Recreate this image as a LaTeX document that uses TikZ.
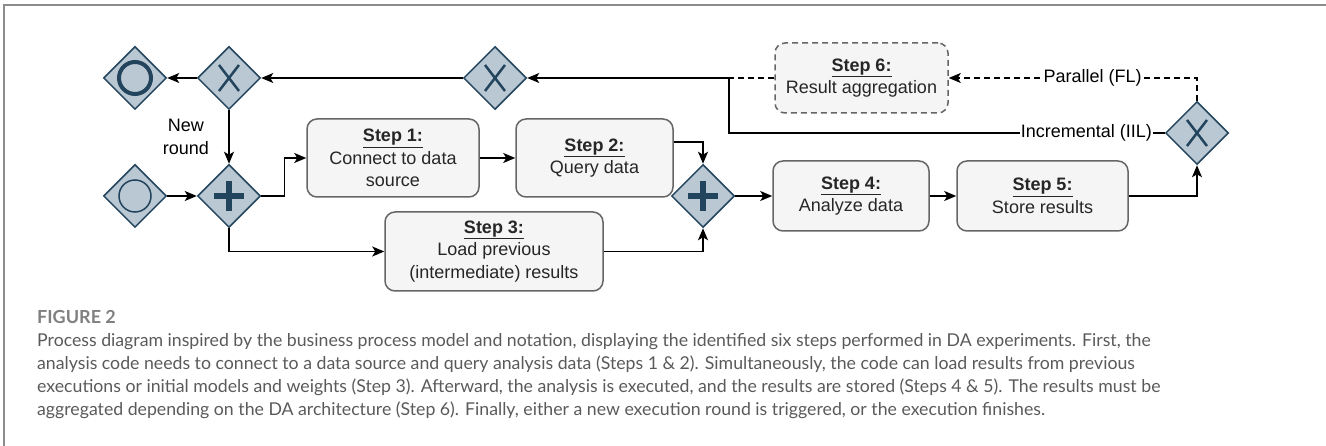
\documentclass[tikz,border=0pt]{standalone}
\usepackage{fontspec}
\setmainfont{Liberation Sans}
\newfontfamily\capfont{Lato}
\usetikzlibrary{shapes.geometric,arrows.meta}
\definecolor{gatefill}{HTML}{BAC8D3}
\definecolor{gatedraw}{HTML}{23445D}
\definecolor{boxfill}{HTML}{F5F5F5}
\definecolor{boxdraw}{HTML}{666666}
\definecolor{capgray}{HTML}{5A5A5A}
\definecolor{framegray}{HTML}{8C8C8C}
\tikzset{
    gateway/.style={
        diamond,
        draw=gatedraw, % dark blue border
        fill=gatefill, % light blue fill
        line width=1.5pt,
        minimum width=63pt,
        minimum height=63pt,
        inner sep=0
    },
    stepbox/.style={
        rectangle,
        rounded corners=10pt,
        draw=boxdraw,
        fill=boxfill,
        line width=1.5pt,
        align=center,
        inner sep=0,
        text=black!85,
        font=\fontsize{18}{22.5}\selectfont
    },
    flow/.style={
        line width=1.5pt,
        -{Stealth[length=12pt,width=10pt,inset=3pt]}
    },
    optional/.style={dash pattern=on 6pt off 4pt},
    flowlabel/.style={
        fill=white,
        inner sep=1pt,
        font=\fontsize{18}{22.5}\selectfont
    },
    gateicon/.style={draw=gatedraw, line cap=butt}
}
\newcommand{\xicon}[1]{%
    \draw[gateicon, line width=2.5pt] ([shift={(-10,-13)}]#1.center) -- ([shift={(10,13)}]#1.center);
    \draw[gateicon, line width=2.5pt] ([shift={(-10,13)}]#1.center) -- ([shift={(10,-13)}]#1.center);}
\newcommand{\plusicon}[1]{%
    \draw[gateicon, line width=6pt] ([shift={(-15,0)}]#1.center) -- ([shift={(15,0)}]#1.center);
    \draw[gateicon, line width=6pt] ([shift={(0,-15)}]#1.center) -- ([shift={(0,15)}]#1.center);}

\begin{document}
\begin{tikzpicture}[x=1pt, y=-1pt]
    \useasboundingbox (0,0) rectangle (1326,446);
    % frame
    \draw[framegray, line width=2pt] (4,446) -- (4,5) -- (1326,5);

    % gateways and events
    \node[gateway] (finish) at (135,78) {};
    \node[gateway] (xround) at (229,78) {};
    \node[gateway] (xmerge) at (495,78) {};
    \node[gateway] (start) at (135,196) {};
    \node[gateway] (fork) at (229,196) {};
    \node[gateway] (join) at (703,196) {};
    \node[gateway] (xarch) at (1197,133) {};
    \draw[gateicon, line width=4pt] (finish.center) circle (16);
    \draw[gateicon, line width=1.5pt] (start.center) circle (16);
    \xicon{xround}
    \xicon{xmerge}
    \xicon{xarch}
    \plusicon{fork}
    \plusicon{join}

    % steps
    \node[stepbox, minimum width=172pt, minimum height=78pt] (s1) at (393,158)
        {\underline{\textbf{Step 1:}}\\Connect to data\\source};
    \node[stepbox, minimum width=157pt, minimum height=78pt] (s2) at (594.5,158)
        {\underline{\textbf{Step 2:}}\\Query data};
    \node[stepbox, minimum width=218pt, minimum height=79pt] (s3) at (494,251.5)
        {\underline{\textbf{Step 3:}}\\Load previous\\(intermediate) results};
    \node[stepbox, minimum width=156pt, minimum height=70pt] (s4) at (851,196)
        {\underline{\textbf{Step 4:}}\\Analyze data};
    \node[stepbox, minimum width=171pt, minimum height=70pt] (s5) at (1042.5,196)
        {\underline{\textbf{Step 5:}}\\Store results};
    \node[stepbox, optional, minimum width=173pt, minimum height=70pt] (s6) at (861.5,78)
        {\underline{\textbf{Step 6:}}\\Result aggregation};

    \coordinate (jtop) at (729,78);
    \coordinate (jlow) at (729,133);
    \coordinate (jpar) at (1197,78);

    % flows
    \draw[flow] (start) -- (fork);
    \draw[flow] (fork.east) -- ++(23,0) |- (s1);
    \draw[flow] (fork) |- (s3);
    \draw[flow] (s1) -- (s2);
    \draw[flow] ([yshift=16pt]s2.east) -| (join);
    \draw[flow] (s3) -| (join);
    \draw[flow] (join) -- (s4);
    \draw[flow] (s4) -- (s5);
    \draw[flow] (s5) -| (xarch);
    \draw[flow, optional] (xarch.north) -- (jpar)
        -- node[flowlabel, pos=0.42] {Parallel (FL)} (s6);
    \draw[line width=1.5pt, optional] (s6.west) -- (jtop);
    \draw[flow] (xarch.west) -- node[flowlabel, pos=0.18] {Incremental (IIL)} (jlow)
        -- (jtop) -- (xmerge.east);
    \draw[flow] (xmerge) -- (xround);
    \draw[flow] (xround) -- (finish);
    \draw[flow] (xround) -- node[anchor=east, xshift=-16pt, align=center,
        font=\fontsize{18}{22.5}\selectfont] {New\\round} (fork);

    % caption
    \node[anchor=west, inner sep=0, text=gray, font=\capfont\bfseries\fontsize{18}{20}\selectfont]
        (figno) at (37,317) {FIGURE 2};
    \node[anchor=north west, align=left, inner sep=0, text=capgray,
        font=\capfont\fontsize{17.7}{23}\selectfont] (caption) at (37,333)
        {Process diagram inspired by the business process model and notation, displaying the identified six steps performed in DA experiments. First, the\\
         analysis code needs to connect to a data source and query analysis data (Steps 1 \& 2). Simultaneously, the code can load results from previous\\
         executions or initial models and weights (Step 3). Afterward, the analysis is executed, and the results are stored (Steps 4 \& 5). The results must be\\
         aggregated depending on the DA architecture (Step 6). Finally, either a new execution round is triggered, or the execution finishes.};
\end{tikzpicture}
\end{document}
